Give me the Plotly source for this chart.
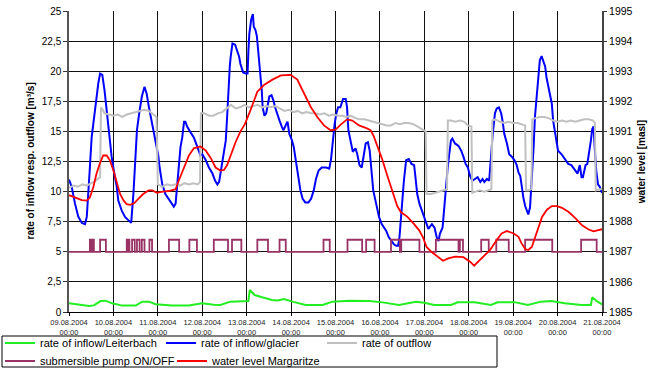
import pandas as pd
import plotly.graph_objects as go

START = pd.Timestamp("2004-08-09 00:00")
END = pd.Timestamp("2004-08-21 00:00")

# ---- series (time in days since 09.08.2004 00:00) ----
leiterbach_days = [0.00, 0.23, 0.45, 0.56, 0.71, 0.82, 0.97, 1.20, 1.50, 1.65, 1.80, 1.95, 2.32, 2.70,
                   3.00, 3.26, 3.41, 3.63, 4.00, 4.04, 4.07, 4.18, 4.35, 4.57, 4.70, 4.84, 5.03, 5.33,
                   5.71, 5.93, 6.31, 6.76, 7.06, 7.43, 7.81, 8.00, 8.22, 8.60, 8.75, 9.13, 9.50, 9.65,
                   10.03, 10.33, 10.63, 10.86, 11.16, 11.54, 11.75, 11.78, 11.88, 12.00]
leiterbach_flow = [0.72, 0.58, 0.50, 0.55, 0.91, 0.94, 0.72, 0.53, 0.53, 0.86, 0.86, 0.64, 0.53, 0.55,
                   0.72, 0.60, 0.58, 0.86, 0.91, 0.91, 1.83, 1.41, 1.22, 1.00, 0.95, 1.08, 0.86, 0.58,
                   0.58, 0.86, 0.94, 0.92, 0.80, 0.58, 0.86, 0.76, 0.58, 0.58, 0.80, 0.80, 0.58, 0.80,
                   0.82, 0.58, 0.86, 0.91, 0.72, 0.58, 0.58, 1.22, 0.91, 0.64]

glacier_days = [0.00, 0.06, 0.135, 0.21, 0.29, 0.36, 0.40, 0.44, 0.47, 0.51, 0.59, 0.66, 0.70, 0.75,
                0.80, 0.85, 0.89, 0.925, 0.96, 1.02, 1.075, 1.11, 1.19, 1.26, 1.34, 1.40, 1.45, 1.49,
                1.53, 1.58, 1.64, 1.70, 1.75, 1.80, 1.86, 1.92, 1.97, 2.01, 2.04, 2.07, 2.10, 2.17,
                2.25, 2.31, 2.36, 2.40, 2.44, 2.47, 2.51, 2.55, 2.59, 2.62, 2.66, 2.74, 2.81, 2.86,
                2.91, 2.96, 3.00, 3.04, 3.08, 3.15, 3.23, 3.29, 3.34, 3.38, 3.41, 3.45, 3.49, 3.53,
                3.56, 3.59, 3.62, 3.64, 3.68, 3.74, 3.79, 3.83, 3.86, 3.92, 3.98, 4.02, 4.04, 4.06,
                4.10, 4.14, 4.16, 4.20, 4.23, 4.26, 4.31, 4.34, 4.36, 4.40, 4.44, 4.47, 4.51, 4.56,
                4.60, 4.64, 4.68, 4.74, 4.79, 4.83, 4.89, 4.92, 4.96, 5.02, 5.06, 5.09, 5.14, 5.17,
                5.21, 5.26, 5.32, 5.39, 5.45, 5.51, 5.56, 5.62, 5.69, 5.79, 5.86, 5.90, 5.94, 5.98,
                6.02, 6.06, 6.11, 6.17, 6.23, 6.26, 6.29, 6.34, 6.39, 6.45, 6.49, 6.54, 6.59, 6.64,
                6.68, 6.73, 6.77, 6.81, 6.85, 6.90, 6.94, 6.98, 7.04, 7.09, 7.14, 7.20, 7.26, 7.32,
                7.37, 7.41, 7.44, 7.47, 7.50, 7.54, 7.59, 7.65, 7.71, 7.77, 7.80, 7.84, 7.89, 7.95,
                8.02, 8.07, 8.09, 8.17, 8.23, 8.28, 8.32, 8.35, 8.41, 8.45, 8.48, 8.52, 8.56, 8.60,
                8.63, 8.69, 8.77, 8.83, 8.88, 8.93, 8.98, 9.03, 9.08, 9.14, 9.20, 9.26, 9.31, 9.35,
                9.41, 9.46, 9.50, 9.54, 9.59, 9.63, 9.68, 9.73, 9.76, 9.80, 9.86, 9.91, 9.97, 10.03,
                10.08, 10.12, 10.16, 10.19, 10.23, 10.27, 10.31, 10.34, 10.38, 10.42, 10.46, 10.49,
                10.53, 10.57, 10.60, 10.64, 10.68, 10.72, 10.75, 10.79, 10.83, 10.87, 10.90, 10.94,
                10.98, 11.01, 11.09, 11.16, 11.24, 11.31, 11.39, 11.45, 11.50, 11.54, 11.57, 11.63,
                11.67, 11.70, 11.75, 11.78, 11.81, 11.84, 11.87, 11.91, 11.95, 12.00]
glacier_flow = [11.0, 10.4, 9.0, 7.9, 7.4, 7.3, 7.9, 9.8, 12.0, 14.5, 17.0, 19.0, 19.8, 19.7,
                18.4, 16.75, 15.1, 14.0, 12.9, 11.5, 10.4, 9.25, 8.4, 7.9, 7.6, 7.4, 9.8, 12.9,
                15.1, 16.5, 17.9, 18.7, 18.1, 17.0, 15.9, 14.8, 13.9, 13.0, 12.0, 11.4, 10.6, 9.8,
                9.4, 9.1, 8.75, 9.0, 10.6, 12.3, 13.7, 14.5, 15.8, 15.8, 15.4, 14.9, 14.5, 14.0,
                13.4, 13.0, 13.1, 12.9, 12.6, 12.0, 11.5, 10.9, 10.6, 10.8, 11.5, 12.3, 13.1, 14.25,
                16.2, 18.7, 20.4, 21.2, 22.3, 22.2, 21.6, 21.2, 20.6, 19.9, 19.8, 19.8, 21.75, 23.1,
                24.25, 24.75, 23.7, 23.4, 22.9, 21.75, 20.1, 18.4, 17.0, 16.3, 16.5, 17.0, 17.9, 18.0,
                17.6, 17.0, 16.5, 15.9, 15.4, 15.1, 15.6, 15.8, 14.8, 14.25, 13.7, 12.9, 11.75, 10.9,
                10.1, 9.4, 9.1, 9.1, 9.4, 10.1, 11.05, 11.75, 12.0, 12.0, 11.9, 12.7, 14.5, 15.6,
                16.5, 17.0, 17.0, 17.7, 17.7, 17.0, 15.1, 14.25, 13.3, 13.6, 13.1, 12.2, 12.0, 13.1,
                14.0, 14.1, 13.4, 11.75, 10.1, 9.25, 8.4, 7.9, 7.3, 7.0, 6.75, 6.2, 5.9, 5.6,
                5.5, 5.5, 6.2, 7.6, 9.25, 10.9, 12.6, 12.7, 12.3, 12.2, 11.2, 9.8, 9.0, 8.4,
                7.6, 7.2, 6.9, 7.3, 7.0, 6.2, 5.9, 6.5, 7.0, 8.7, 10.4, 11.75, 13.1, 14.25,
                14.4, 14.0, 13.8, 13.4, 12.9, 12.3, 12.0, 11.3, 10.9, 11.05, 11.2, 10.8, 11.05, 10.8,
                11.05, 10.9, 13.1, 14.8, 16.5, 16.9, 17.0, 16.5, 15.9, 14.8, 14.0, 13.1, 12.9, 12.6,
                12.2, 11.6, 11.3, 10.4, 9.5, 8.8, 8.4, 8.1, 8.7, 10.9, 13.7, 16.2,
                18.1, 19.8, 20.9, 21.25, 20.9, 20.4, 19.5, 18.7, 17.9, 17.3, 15.9, 15.1,
                14.25, 13.4, 13.1, 12.7, 12.3, 12.2, 11.75, 11.5, 12.2, 11.2, 11.2, 12.2,
                12.3, 12.9, 14.25, 15.2, 15.4, 13.4, 11.75, 10.6, 10.4, 9.9]

outflow_days = [0.00, 0.10, 0.20, 0.30, 0.40, 0.50, 0.60, 0.70, 0.72, 0.76, 0.80, 0.90, 1.00, 1.10,
                1.20, 1.30, 1.40, 1.50, 1.60, 1.70, 1.80, 1.90, 1.97, 2.00, 2.10, 2.20, 2.30, 2.40,
                2.50, 2.60, 2.70, 2.80, 2.90, 2.95, 2.97, 3.05, 3.15, 3.25, 3.35, 3.45, 3.55, 3.65,
                3.75, 3.85, 3.95, 4.05, 4.15, 4.25, 4.35, 4.45, 4.55, 4.65, 4.75, 4.85, 4.95, 5.05,
                5.15, 5.25, 5.35, 5.45, 5.55, 5.65, 5.75, 5.85, 5.95, 6.05, 6.15, 6.25, 6.35, 6.45,
                6.55, 6.65, 6.75, 6.85, 6.95, 7.05, 7.15, 7.25, 7.35, 7.45, 7.55, 7.65, 7.75, 7.85,
                7.95, 8.03, 8.05, 8.15, 8.25, 8.35, 8.45, 8.51, 8.53, 8.60, 8.70, 8.80, 8.90, 8.98,
                9.06, 9.08, 9.15, 9.25, 9.35, 9.45, 9.51, 9.53, 9.60, 9.70, 9.80, 9.90, 10.00, 10.10,
                10.20, 10.27, 10.29, 10.35, 10.41, 10.43, 10.50, 10.60, 10.70, 10.80, 10.90, 11.00,
                11.10, 11.20, 11.30, 11.40, 11.50, 11.60, 11.70, 11.80, 11.84, 11.86, 11.95, 12.00]
outflow_flow = [10.3, 10.5, 10.4, 10.6, 10.5, 10.7, 10.9, 11.2, 17.0, 16.8, 16.5, 16.4, 16.3, 16.4,
                16.2, 16.4, 16.5, 16.6, 16.7, 16.8, 16.7, 16.4, 16.2, 10.6, 10.4, 10.6, 10.5, 10.6,
                10.5, 10.7, 10.6, 10.7, 10.6, 10.8, 16.5, 16.5, 16.3, 16.3, 16.5, 16.6, 16.9, 17.2,
                16.9, 17.0, 17.2, 17.0, 17.1, 17.2, 17.0, 17.1, 17.0, 17.1, 16.9, 16.7, 16.8, 16.6,
                16.7, 16.5, 16.6, 16.5, 16.5, 16.4, 16.5, 16.3, 16.4, 16.3, 16.3, 16.2, 16.3, 16.1,
                16.0, 16.0, 15.9, 15.8, 15.7, 15.6, 15.5, 15.5, 15.7, 15.6, 15.7, 15.7, 15.6, 15.4,
                15.2, 15.0, 9.8, 9.8, 9.9, 10.0, 10.1, 10.2, 15.9, 15.9, 15.8, 15.9, 15.8, 15.5,
                15.4, 9.9, 10.0, 10.1, 10.0, 10.1, 10.2, 15.9, 16.0, 15.8, 15.7, 15.8, 15.7, 15.7,
                15.6, 15.5, 10.1, 10.1, 10.2, 16.0, 16.1, 16.2, 16.2, 16.1, 15.9, 15.8,
                15.9, 15.8, 15.9, 15.8, 15.9, 16.0, 16.0, 15.9, 15.7, 10.1, 10.2, 10.2]

# submersible pump: ON periods (start, end) in days
pump_on_start = [0.47, 0.53, 0.70, 1.30, 1.34, 1.42, 1.53, 1.64, 1.81, 2.25, 2.71, 3.26, 3.67,
                 4.24, 4.74, 5.73, 6.27, 6.69, 7.25, 7.48, 8.26, 8.80, 9.28, 9.62, 10.27, 11.53]
pump_on_end = [0.49, 0.56, 0.83, 1.32, 1.36, 1.48, 1.59, 1.70, 1.87, 2.48, 2.88, 3.58, 3.88,
               4.48, 4.88, 5.87, 6.60, 6.88, 7.45, 7.89, 8.77, 8.87, 9.45, 9.90, 10.88, 11.88]
PUMP_OFF = 5
PUMP_ON = 6

# water level Margaritze [masl]
level_days = [0.00, 0.13, 0.29, 0.40, 0.47, 0.55, 0.62, 0.70, 0.77, 0.85, 0.92, 1.00, 1.08, 1.15,
              1.23, 1.30, 1.38, 1.47, 1.56, 1.67, 1.79, 1.88, 1.98, 2.10, 2.25, 2.40, 2.47, 2.59,
              2.70, 2.81, 2.96, 3.08, 3.19, 3.30, 3.41, 3.49, 3.56, 3.64, 3.75, 3.86, 3.96, 4.09,
              4.24, 4.39, 4.58, 4.77, 4.99, 5.14, 5.29, 5.44, 5.59, 5.74, 5.89, 6.00, 6.13, 6.26,
              6.38, 6.53, 6.68, 6.79, 6.86, 6.94, 7.05, 7.16, 7.28, 7.39, 7.47, 7.62, 7.77, 7.88,
              7.97, 8.05, 8.16, 8.31, 8.42, 8.54, 8.69, 8.88, 9.03, 9.12, 9.22, 9.33, 9.48, 9.63,
              9.74, 9.86, 10.01, 10.12, 10.19, 10.27, 10.34, 10.42, 10.53, 10.65, 10.76, 10.87,
              10.99, 11.10, 11.25, 11.40, 11.55, 11.70, 11.81, 11.89, 12.00]
level_masl = [1988.88, 1988.80, 1988.72, 1988.70, 1988.80, 1989.16, 1989.60, 1989.96, 1990.20,
              1990.20, 1990.04, 1989.70, 1989.32, 1988.92, 1988.70, 1988.58, 1988.56, 1988.62,
              1988.76, 1988.92, 1989.04, 1989.04, 1988.96, 1989.00, 1989.02, 1989.08, 1989.36,
              1989.80, 1990.20, 1990.44, 1990.50, 1990.36, 1990.12, 1989.80, 1989.70, 1989.72,
              1989.88, 1990.20, 1990.64, 1991.00, 1991.24, 1991.72, 1992.32, 1992.54, 1992.72,
              1992.86, 1992.88, 1992.72, 1992.28, 1991.82, 1991.48, 1991.20, 1991.04, 1991.06,
              1991.24, 1991.40, 1991.36, 1991.20, 1991.12, 1991.04, 1990.84, 1990.52, 1990.08,
              1989.56, 1989.00, 1988.52, 1988.32, 1988.16, 1987.92, 1987.72, 1987.48, 1987.16,
              1987.00, 1986.82, 1986.70, 1986.78, 1986.84, 1986.82, 1986.67, 1986.54, 1986.68,
              1986.86, 1987.06, 1987.39, 1987.61, 1987.69, 1987.61, 1987.50, 1987.28, 1987.09,
              1987.06, 1987.16, 1987.64, 1988.16, 1988.40, 1988.52, 1988.52, 1988.46, 1988.32,
              1988.12, 1987.88, 1987.74, 1987.68, 1987.72, 1987.75]

# ---- axis ticks and titles ----
day_labels = ["09.08.2004", "10.08.2004", "11.08.2004", "12.08.2004", "13.08.2004",
              "14.08.2004", "15.08.2004", "16.08.2004", "17.08.2004", "18.08.2004",
              "19.08.2004", "20.08.2004", "21.08.2004"]
flow_ticks = [0, 2.5, 5, 7.5, 10, 12.5, 15, 17.5, 20, 22.5, 25]
flow_tick_labels = ["0", "2,5", "5", "7,5", "10", "12,5", "15", "17,5", "20", "22,5", "25"]
level_ticks = [1985, 1986, 1987, 1988, 1989, 1990, 1991, 1992, 1993, 1994, 1995]
level_tick_labels = [str(v) for v in level_ticks]
flow_title = "rate of inflow resp. outflow [m³/s]"
level_title = "water level [masl]"


def to_time(days):
    return [START + pd.Timedelta(days=d) for d in days]


# pump state as a step series
pump_days = [0.0]
pump_state = [PUMP_OFF]
for s, e in zip(pump_on_start, pump_on_end):
    pump_days += [s, s, e, e]
    pump_state += [PUMP_OFF, PUMP_ON, PUMP_ON, PUMP_OFF]
pump_days.append(12.0)
pump_state.append(PUMP_OFF)

FONT = "Liberation Sans, Arial, sans-serif"
W, H = 661, 369
ML, MR, MT, MB = 69, 59, 11, 57
PW, PH = W - ML - MR, H - MT - MB


def px_x(x):
    return (x - ML) / PW


def px_y(y):
    return (H - MB - y) / PH


fig = go.Figure()
fig.add_trace(go.Scatter(x=to_time(leiterbach_days), y=leiterbach_flow, mode="lines",
                         name="rate of inflow/Leiterbach", line=dict(color="#22ee22", width=2),
                         legend="legend"))
fig.add_trace(go.Scatter(x=to_time(glacier_days), y=glacier_flow, mode="lines",
                         name="rate of inflow/glacier", line=dict(color="#0000ff", width=2),
                         legend="legend"))
fig.add_trace(go.Scatter(x=to_time(outflow_days), y=outflow_flow, mode="lines",
                         name="rate of outflow", line=dict(color="#c0c0c0", width=2),
                         legend="legend"))
fig.add_trace(go.Scatter(x=to_time(pump_days), y=pump_state, mode="lines",
                         name="submersible pump ON/OFF", line=dict(color="#993366", width=1.8),
                         legend="legend2"))
fig.add_trace(go.Scatter(x=to_time(level_days), y=level_masl, mode="lines", yaxis="y2",
                         name="water level Margaritze", line=dict(color="#ff0000", width=1.8),
                         legend="legend2"))

legend_common = dict(orientation="h", xanchor="left", yanchor="middle", x=px_x(0),
                     font=dict(family=FONT, size=11, color="black"), bgcolor="rgba(0,0,0,0)",
                     borderwidth=0, entrywidthmode="pixels", itemclick=False)

fig.update_layout(
    width=W, height=H,
    margin=dict(l=ML, r=MR, t=MT, b=MB, autoexpand=False),
    paper_bgcolor="white", plot_bgcolor="white",
    font=dict(family=FONT, color="black"),
    showlegend=True,
    legend=dict(y=px_y(343), entrywidth=116, **legend_common),
    legend2=dict(y=px_y(361), entrywidth=127, **legend_common),
    xaxis=dict(
        type="date", range=[START, END],
        tickvals=to_time(range(len(day_labels))),
        ticktext=[f"{d}<br>00:00" for d in day_labels],
        tickfont=dict(family=FONT, size=7.5, color="#222"),
        tickangle=0,
        showgrid=True, gridcolor="#111", gridwidth=1,
        showline=True, linecolor="black", linewidth=1,
        ticks="outside", ticklen=3, tickcolor="black",
        zeroline=False,
    ),
    yaxis=dict(
        range=[0, 25], tickvals=flow_ticks, ticktext=flow_tick_labels,
        tickfont=dict(family=FONT, size=10, color="black"),
        showgrid=True, gridcolor="#111", gridwidth=1,
        showline=True, linecolor="#555", linewidth=1.5,
        ticks="outside", ticklen=4, tickcolor="#333",
        zeroline=False,
    ),
    yaxis2=dict(
        range=[1985, 1995], tickvals=level_ticks, ticktext=level_tick_labels,
        overlaying="y", side="right",
        tickfont=dict(family=FONT, size=10.5, color="black"),
        showgrid=False, zeroline=False,
        showline=True, linecolor="#444", linewidth=2,
        ticks="outside", ticklen=3, tickcolor="#333",
        title=dict(text=f"<b>{level_title}</b>",
                   font=dict(family=FONT, size=10, color="black"), standoff=6),
    ),
    annotations=[dict(text=f"<b>{flow_title}</b>", textangle=-90,
                      xref="paper", yref="paper", x=px_x(30), y=0.5,
                      xanchor="center", yanchor="middle", showarrow=False,
                      font=dict(family=FONT, size=10, color="black"))],
    shapes=[dict(type="rect", xref="paper", yref="paper",
                 x0=px_x(2), x1=px_x(497), y0=px_y(367), y1=px_y(336),
                 line=dict(color="black", width=1), fillcolor="rgba(0,0,0,0)", layer="below")],
)

fig.write_html("out.html")
